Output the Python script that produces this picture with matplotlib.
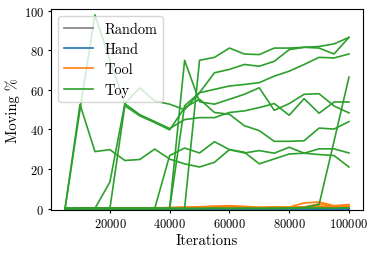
import matplotlib
matplotlib.use('Agg')
import matplotlib.pyplot as plt

plt.rcParams['font.family'] = 'serif'
plt.rcParams['font.serif'] = ['cmr10']
plt.rcParams['axes.formatter.use_mathtext'] = True

iters = [5000 * (i + 1) for i in range(20)]

# Random and Hand never move anything
random_runs = [[0] * 20 for _ in range(3)]
hand_runs = [[0] * 20 for _ in range(3)]

tool_runs = [
    [0, 0, 0.2, 0.3, 0.2, 0.3, 0.2, 0.5, 0.7, 0.6, 0.8, 1.0, 0.8, 0.6, 0.7, 0.6, 0.9, 1.2, 0.8, 1.0],
    [0, 0.1, 0.1, 0.2, 0.3, 0.2, 0.4, 0.3, 0.5, 0.9, 1.2, 1.4, 1.1, 0.5, 0.8, 0.7, 2.8, 3.3, 1.4, 2.0],
    [0, 0, 0.1, 0.1, 0.2, 0.2, 0.3, 0.4, 0.4, 0.6, 0.9, 0.7, 0.6, 0.4, 0.5, 0.5, 0.7, 2.4, 0.9, 1.3],
    [0, 0, 0, 0.1, 0.1, 0.2, 0.2, 0.3, 0.3, 0.4, 0.6, 0.5, 0.4, 0.3, 0.3, 0.4, 0.5, 0.8, 0.6, 0.7],
]

toy_runs = [
    [0, 52.7, 28.8, 29.8, 24.3, 24.8, 30.1, 25.0, 22.6, 21.0, 23.4, 29.8, 28.5, 22.6, 25.1, 27.6, 28.0, 27.3, 26.8, 21.0],
    [0, 50, 98, 75, 53, 47.5, 44, 40.5, 45, 46, 46, 48.6, 49.4, 51.1, 53.1, 47.2, 55.6, 48.2, 53.9, 53.9],
    [0, 0, 0, 0, 52, 46.9, 43.5, 39.8, 51, 55.3, 48.6, 47.7, 41.9, 39.4, 34, 34, 34.3, 40.7, 40.2, 44],
    [0, 0, 0, 13.4, 53, 61, 54.4, 52.8, 50, 58.6, 68.7, 70.4, 72.9, 72, 74.5, 80.4, 81.6, 82, 83.3, 86.6],
    [0, 0, 0, 0, 0, 0, 0, 26.8, 30.6, 28.1, 33.8, 29.8, 28.1, 29.3, 28, 31, 28, 30.2, 30.2, 28.1],
    [0, 0, 0, 0, 0, 0, 0, 0, 75, 54, 52.8, 55.3, 57.8, 61.1, 49.7, 53.1, 57.8, 58.1, 51.9, 48.4],
    [0, 0, 0, 0, 0, 0, 0, 0, 52, 58.6, 60.3, 62, 62.8, 63.7, 67, 69.5, 72.9, 76.5, 76.2, 78.2],
    [0, 0, 0, 0, 0, 0, 0, 0, 0, 75, 76.5, 81.2, 78.2, 77.9, 81.2, 81.2, 81.6, 81.2, 78.2, 86.6],
    [0, 0, 0, 0, 0, 0, 0, 0, 0, 0, 0, 0, 0, 0, 0, 0, 0.5, 2.0, 34, 66.5],
    [0, 0, 0, 0, 0, 0, 0, 0, 0, 0, 0.2, 0.1, 0.2, 0.1, 0.2, 0.3, 0.2, 0.3, 0.2, 0.4],
]

groups = [('Random', 'C7', random_runs), ('Hand', 'C0', hand_runs),
          ('Tool', 'C1', tool_runs), ('Toy', 'C2', toy_runs)]

fig = plt.figure(figsize=(3.74, 2.55), dpi=100)
ax = fig.add_axes([0.136, 0.173, 0.835, 0.788])

for name, col, runs in groups:
    for k, r in enumerate(runs):
        ax.plot(iters, r, color=col, lw=1.2, label=name if k == 0 else None)

ax.set_ylim(-0.7, 101)
ax.set_xticks([20000, 40000, 60000, 80000, 100000])
ax.set_yticks([0, 20, 40, 60, 80, 100])
ax.tick_params(labelsize=9, length=2.5, pad=2.5)
ax.set_xlabel('Iterations', fontsize=10.7, labelpad=2.5)
ax.set_ylabel('Moving %', fontsize=10.5, labelpad=3)
ax.legend(loc='upper left', fontsize=10.4, labelspacing=0.45)

fig.savefig('out.png', dpi=100)
